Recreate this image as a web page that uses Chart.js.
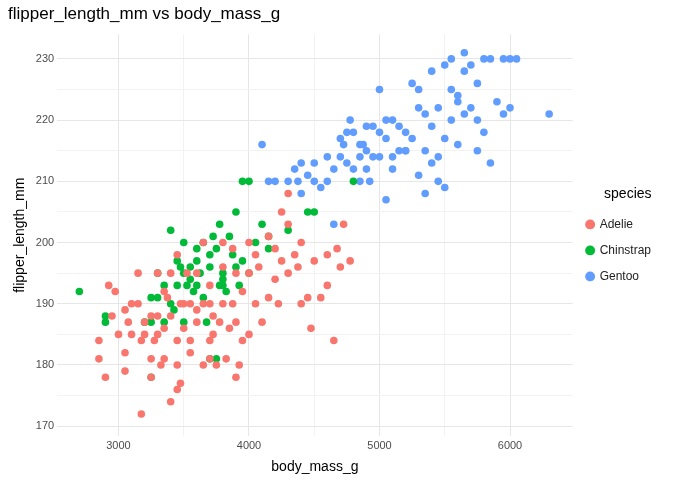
<!DOCTYPE html>
<html><head><meta charset="utf-8">
<script src="https://cdn.jsdelivr.net/npm/chart.js@4"></script>
<style>body{margin:0;background:#fff}#wrap{width:697px;height:484px;position:relative}</style>
</head><body><div id="wrap"><canvas id="c"></canvas></div>
<script>
const adelie = [[2850,181],[2850,184],[2900,178],[2925,193],[2975,192],[3000,185],[3050,182],[3050,179],[3075,187],[3100,190],[3150,190],[3175,184],[3200,185],[3200,187],[3175,172],[3250,178],[3250,181],[3275,184],[3300,185],[3300,195],[3325,180],[3350,186],[3375,191],[3400,188],[3400,174],[3450,176],[3450,180],[3450,184],[3475,190],[3500,186],[3525,195],[3550,190],[3550,182],[3600,187],[3650,180],[3650,190],[3700,184],[3700,190],[3700,193],[3725,185],[3750,180],[3775,187],[3800,190],[3800,196],[3825,181],[3850,186],[3875,190],[3900,178],[3900,187],[3950,184],[3950,192],[4000,185],[4000,195],[4050,190],[4075,196],[4100,187],[4150,191],[4200,199],[4225,190],[4250,197],[4300,208],[4300,195],[4350,198],[4375,196],[4400,190],[4450,191],[4475,186],[4500,197],[4550,191],[4600,198],[4650,184],[4675,199],[4700,196],[4725,203],[4775,197],[3300,188],[3350,192],[3500,190],[3600,195],[3150,195],[3050,189],[3700,181],[3650,200],[3800,200],[4250,205],[4300,203],[3400,195],[3450,198],[3600,189],[3900,195],[4000,200],[4150,201],[3550,184],[3350,181],[3100,185],[2950,188],[3725,188],[3875,199],[4050,198],[4200,194],[4400,200],[4600,193],[3475,177],[3250,188],[3925,180]];
const chinstrap = [[2700,192],[2900,187],[2900,188],[3250,178],[3250,191],[3200,187],[3300,195],[3350,193],[3400,202],[3425,189],[3450,197],[3475,196],[3500,200],[3525,193],[3550,196],[3575,192],[3600,197],[3625,195],[3650,191],[3675,187],[3700,196],[3700,198],[3725,201],[3750,199],[3775,193],[3800,195],[3825,192],[3850,201],[3875,198],[3900,196],[3950,197],[3950,210],[4000,210],[4050,200],[4100,203],[4150,201],[4300,202],[4450,205],[4500,205],[4800,210],[3350,187],[3600,193],[3700,181],[3750,181],[3550,194],[3300,191],[3775,203],[3650,200],[3400,190],[3500,187],[3450,193],[3800,194],[3600,199],[3925,193],[4000,195],[4150,199],[3250,187],[3500,195],[3800,193],[3900,205]];
const gentoo = [[4100,216],[4150,210],[4200,210],[4300,210],[4375,210],[4400,208],[4450,211],[4500,210],[4550,209],[4600,210],[4650,212],[4650,203],[4700,214],[4725,216],[4750,213],[4800,212],[4850,214],[4875,216],[4900,215],[4925,210],[4950,219],[5000,225],[5000,214],[5050,207],[5100,212],[5150,215],[5200,218],[5250,226],[5300,222],[5350,221],[5400,219],[5450,214],[5500,229],[5550,220],[5600,223],[5650,231],[5700,229],[5750,226],[5800,230],[5850,213],[5900,223],[5950,221],[6000,230],[6050,230],[6300,221],[4700,217],[4750,218],[4850,216],[4900,219],[4950,214],[5000,218],[5050,220],[5100,220],[5200,215],[5250,217],[5300,225],[5350,215],[5400,228],[5450,222],[5550,230],[5600,216],[5650,228],[5700,222],[5750,220],[5850,230],[5950,230],[6000,222],[5500,209],[5400,213],[5350,208],[5200,215],[5150,219],[5050,217],[4900,212],[4850,210],[4800,218],[4775,220],[5100,214],[5300,211],[5450,210],[5650,221],[5550,225],[5750,215],[5800,218],[4400,213],[4350,212],[4500,213],[4600,214],[5500,217],[5600,224]];
const speciesNames = ['Adelie','Chinstrap','Gentoo'];
const colors = ['#F8766D','#00BA38','#619CFF'];

const toPts = a => a.map(p => ({x:p[0], y:p[1]}));
const ds = [adelie, chinstrap, gentoo].map((a,i) => ({
  label: speciesNames[i], data: toPts(a),
  backgroundColor: colors[i], borderWidth: 0, pointRadius: 3.8, pointHoverRadius: 3.8
}));
const gridCol = ctx => (ctx.tick && ctx.tick.major) ? '#e6e6e6' : '#f2f2f2';

// make the legend box wider so the plot ends where ggplot's does
const widenLegend = {
  id: 'widenLegend',
  beforeUpdate(chart) {
    const l = chart.legend;
    if (l && !l._wide) { const f = l.fit.bind(l); l.fit = function(){ f(); this.width += 22; }; l._wide = true; }
  }
};

new Chart(document.getElementById('c'), {
  type: 'scatter',
  data: { datasets: ds },
  plugins: [widenLegend],
  options: {
    responsive: true, maintainAspectRatio: false, animation: false,
    layout: { padding: { left: 8, right: 14, top: 4, bottom: 4 } },
    plugins: {
      title: { display: true, text: 'flipper_length_mm vs body_mass_g', align: 'start',
        color: '#000', font: { family: 'Liberation Sans, Arial', size: 17, weight: 'normal' }, padding: { bottom: 10 } },
      legend: { position: 'right',
        title: { display: true, text: 'species', color: '#000', font: { family: 'Liberation Sans', size: 14 } },
        labels: { usePointStyle: true, pointStyle: 'circle', boxWidth: 7, boxHeight: 7, padding: 14,
          color: '#222', font: { family: 'Liberation Sans', size: 12 } } },
      tooltip: { enabled: false }
    },
    scales: {
      x: { min: 2530, max: 6480, border: { display: false },
        title: { display: true, text: 'body_mass_g', color: '#000', font: { family: 'Liberation Sans', size: 14 } },
        afterBuildTicks: ax => { const t=[]; for (let v=2500; v<=6500; v+=500) if (v>=ax.min && v<=ax.max) t.push({value:v, major: v%1000===0}); ax.ticks=t; },
        ticks: { color: '#4d4d4d', font: { family: 'Liberation Sans', size: 11 }, autoSkip: false, maxRotation: 0,
          callback: v => v%1000===0 ? v : '' },
        grid: { color: gridCol, drawTicks: false } },
      y: { min: 168.4, max: 234, border: { display: false },
        title: { display: true, text: 'flipper_length_mm', color: '#000', font: { family: 'Liberation Sans', size: 14 } },
        afterBuildTicks: ax => { const t=[]; for (let v=170; v<=230; v+=5) t.push({value:v, major: v%10===0}); ax.ticks=t; },
        ticks: { color: '#4d4d4d', font: { family: 'Liberation Sans', size: 11 }, autoSkip: false,
          callback: v => v%10===0 ? v : '' },
        grid: { color: gridCol, drawTicks: false } }
    }
  }
});
</script></body></html>
